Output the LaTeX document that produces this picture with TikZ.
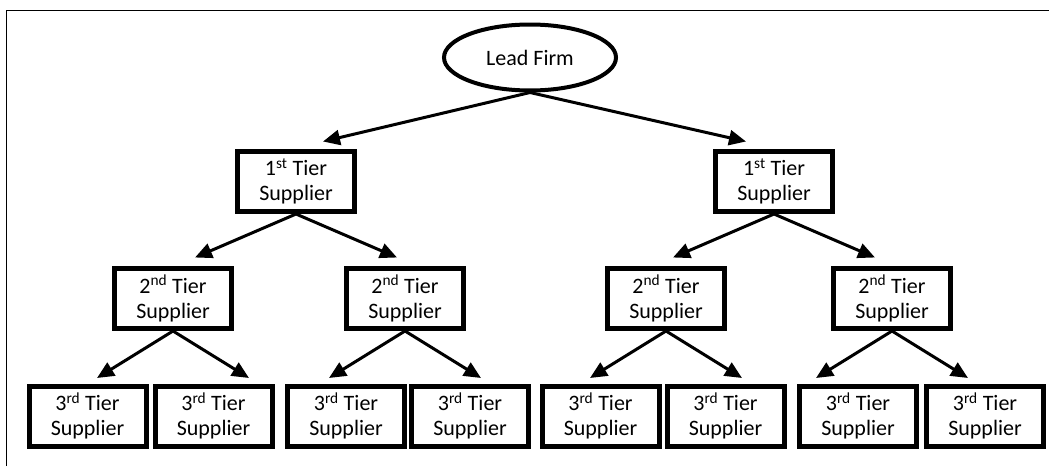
\documentclass[tikz,border=0pt]{standalone}
\usepackage{fontspec}
\setmainfont{Carlito}
\usetikzlibrary{arrows.meta,shapes.geometric}

\tikzset{
  tierbox/.style={draw, line width=5pt, minimum width=117pt, minimum height=60pt,
    inner sep=0pt, align=center, font=\fontsize{22}{25}\selectfont},
  firm/.style={ellipse, draw, line width=4pt, minimum width=172pt, minimum height=66pt,
    inner sep=0pt, font=\fontsize{22}{25}\selectfont},
  link/.style={line width=3pt, -{Triangle[length=17pt,width=15pt]}}
}
\newcommand{\tiertext}[2]{#1\textsuperscript{#2} Tier\\Supplier}

\begin{document}
\begin{tikzpicture}[x=1pt, y=-1pt]
      \useasboundingbox (0,0) rectangle (1049,466);

      % Frame (only top and left edges are visible)
      \draw[line width=1.5pt] (6.5,466) -- (6.5,10.5) -- (1049,10.5);

      % Lead firm
      \node[firm] (lead) at (530,57.5) {Lead Firm};

      % 1st tier
      \node[tierbox] (s11) at (296,181.5) {\tiertext{1}{st}};
      \node[tierbox] (s12) at (774,181.5) {\tiertext{1}{st}};

      % 2nd tier
      \foreach \x [count=\i] in {173,405,666,892}
        \node[tierbox] (s2\i) at (\x,298.5) {\tiertext{2}{nd}};

      % 3rd tier
      \foreach \x [count=\i] in {87.5,213.5,346,470,600.5,725.5,858,985}
        \node[tierbox] (s3\i) at (\x,416) {\tiertext{3}{rd}};

      % Links from the lead firm
      \draw[link] (lead.south) -- ([shift={(27,-7.5)}]s11.north);
      \draw[link] (lead.south) -- ([shift={(-28,-7.5)}]s12.north);

      % Links from 1st to 2nd tier
      \foreach \p/\c/\dx in {s11/s21/22, s11/s22/-8, s12/s23/7, s12/s24/-17}
        \draw[link] (\p.south) -- ([shift={(\dx,-8.5)}]\c.north);

      % Links from 2nd to 3rd tier
      \foreach \p/\c/\dx in {s21/s31/9.5, s21/s32/35.5, s22/s33/-17, s22/s34/11,
                             s23/s35/-10.5, s23/s36/16.5, s24/s37/-42, s24/s38/-17}
        \draw[link] (\p.south) -- ([shift={(\dx,-5.5)}]\c.north);
\end{tikzpicture}
\end{document}
